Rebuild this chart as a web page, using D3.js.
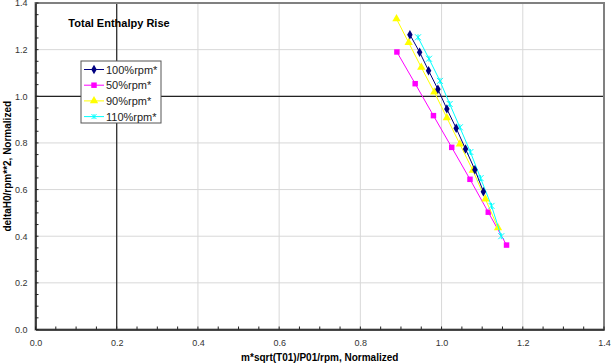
<!DOCTYPE html>
<html>
<head>
<meta charset="utf-8">
<script src="https://cdn.jsdelivr.net/npm/d3@7"></script>
<style>
  html, body { margin: 0; padding: 0; background: #fff; }
  svg { display: block; font-family: "Liberation Sans", Arial, sans-serif; }
</style>
</head>
<body>
<svg id="chart" width="612" height="363"></svg>
<script>
// ---- data ----
var seriesNames = ['100%rpm*', '50%rpm*', '90%rpm*', '110%rpm*'];
var seriesColors = ['#000080', '#ff00ff', '#ffff00', '#00ffff'];
var seriesShapes = ['diamond', 'square', 'triangle', 'cross'];

var x100 = [0.922, 0.946, 0.968, 0.991, 1.013, 1.036, 1.059, 1.082, 1.103];
var y100 = [1.264, 1.189, 1.110, 1.030, 0.946, 0.863, 0.774, 0.685, 0.591];

var x50 = [0.890, 0.935, 0.980, 1.025, 1.070, 1.115, 1.160];
var y50 = [1.190, 1.054, 0.917, 0.781, 0.644, 0.503, 0.362];

var x90 = [0.889, 0.919, 0.950, 0.982, 1.013, 1.045, 1.077, 1.108, 1.139];
var y90 = [1.332, 1.230, 1.124, 1.018, 0.908, 0.795, 0.682, 0.559, 0.436];

var x110 = [0.942, 0.969, 0.996, 1.020, 1.045, 1.071, 1.096, 1.123, 1.147];
var y110 = [1.253, 1.161, 1.066, 0.967, 0.867, 0.761, 0.649, 0.530, 0.400];

var xTicks = [0.0, 0.2, 0.4, 0.6, 0.8, 1.0, 1.2, 1.4];
var yTicks = [0.0, 0.2, 0.4, 0.6, 0.8, 1.0, 1.2, 1.4];

var chartTitle = 'Total Enthalpy Rise';
var xLabel = 'm*sqrt(T01)/P01/rpm, Normalized';
var yLabel = 'deltaH0/rpm**2, Normalized';

var xs = [x100, x50, x90, x110];
var ys = [y100, y50, y90, y110];
var series = seriesNames.map(function(name, i) {
  return {
    name: name, color: seriesColors[i], shape: seriesShapes[i],
    points: xs[i].map(function(xv, j) { return { x: xv, y: ys[i][j] }; })
  };
});

// ---- layout ----
var svg = d3.select('#chart');
var plotL = 35.5, plotR = 604, plotT = 3, plotB = 329.5;

var x = d3.scaleLinear().domain([0, 1.4]).range([plotL, plotR]);
var y = d3.scaleLinear().domain([0, 1.4]).range([plotB, plotT]);

// light gridlines
var grid = svg.append('g').attr('stroke', '#d8d8d8').attr('stroke-width', 1);
grid.selectAll('line.gx').data(xTicks.slice(1, -1)).enter().append('line')
  .attr('x1', function(d) { return x(d); }).attr('x2', function(d) { return x(d); })
  .attr('y1', plotT).attr('y2', plotB);
grid.selectAll('line.gy').data(yTicks.slice(1, -1)).enter().append('line')
  .attr('y1', function(d) { return y(d); }).attr('y2', function(d) { return y(d); })
  .attr('x1', plotL).attr('x2', plotR);

// dark reference lines at x=0.2 and y=1.0
svg.append('line').attr('x1', x(0.2)).attr('x2', x(0.2)).attr('y1', plotT).attr('y2', plotB)
  .attr('stroke', '#222').attr('stroke-width', 1.2);
svg.append('line').attr('x1', plotL).attr('x2', plotR).attr('y1', y(1.0)).attr('y2', y(1.0))
  .attr('stroke', '#222').attr('stroke-width', 1.2);

// plot frame (gray top/right)
svg.append('rect').attr('x', plotL).attr('y', plotT).attr('width', plotR - plotL).attr('height', plotB - plotT)
  .attr('fill', 'none').attr('stroke', '#808080').attr('stroke-width', 2);

// axes
var fmt = d3.format('.1f');
var xAxis = d3.axisBottom(x).tickValues(xTicks).tickFormat(fmt).tickSize(0).tickPadding(10);
var yAxis = d3.axisLeft(y).tickValues(yTicks).tickFormat(fmt).tickSize(0).tickPadding(8);

var gx = svg.append('g').attr('transform', 'translate(0,' + plotB + ')').call(xAxis);
var gy = svg.append('g').attr('transform', 'translate(' + plotL + ',0)').call(yAxis);
[gx, gy].forEach(function(g) {
  g.select('.domain').attr('stroke', '#222').attr('stroke-width', 1.5);
  g.selectAll('text').attr('font-size', 9).attr('fill', '#333')
    .attr('font-family', '"Liberation Sans", Arial, sans-serif');
});

// minor ticks every 0.05 (inside)
var minor = d3.range(0, 1.4001, 0.05);
svg.append('g').attr('stroke', '#222').selectAll('line').data(minor).enter().append('line')
  .attr('x1', function(d) { return x(d); }).attr('x2', function(d) { return x(d); })
  .attr('y1', plotB).attr('y2', plotB - 3);
svg.append('g').attr('stroke', '#222').selectAll('line').data(minor).enter().append('line')
  .attr('y1', function(d) { return y(d); }).attr('y2', function(d) { return y(d); })
  .attr('x1', plotL).attr('x2', plotL + 3);

// axis labels
svg.append('text').attr('x', (plotL + plotR) / 2).attr('y', 361)
  .attr('text-anchor', 'middle').attr('font-size', 10).attr('font-weight', 'bold').text(xLabel);
svg.append('text').attr('transform', 'translate(11,' + (plotT + plotB) / 2 + ') rotate(-90)')
  .attr('text-anchor', 'middle').attr('font-size', 10).attr('font-weight', 'bold').text(yLabel);

// chart title
svg.append('text').attr('x', 119).attr('y', 27).attr('text-anchor', 'middle')
  .attr('font-size', 11).attr('font-weight', 'bold').text(chartTitle);

// marker drawing
function drawMarker(sel, shape, color, size) {
  if (shape === 'cross') {
    var s = size;
    sel.append('path')
      .attr('d', 'M' + (-s) + ',' + (-s) + 'L' + s + ',' + s + 'M' + (-s) + ',' + s + 'L' + s + ',' + (-s) + 'M0,' + (-s) + 'L0,' + s)
      .attr('stroke', color).attr('stroke-width', 1).attr('fill', 'none');
  } else {
    var sym = shape === 'diamond' ? d3.symbolDiamond : shape === 'square' ? d3.symbolSquare : d3.symbolTriangle;
    var area = shape === 'diamond' ? 26 : shape === 'square' ? 30 : 30;
    sel.append('path').attr('d', d3.symbol().type(sym).size(area)()).attr('fill', color);
  }
}

// series lines and markers
var line = d3.line().x(function(d) { return x(d.x); }).y(function(d) { return y(d.y); });
var drawOrder = [1, 2, 3, 0];
drawOrder.forEach(function(i) {
  var s = series[i];
  svg.append('path').datum(s.points).attr('d', line)
    .attr('fill', 'none').attr('stroke', s.color).attr('stroke-width', 1);
  svg.append('g').selectAll('g').data(s.points).enter().append('g')
    .attr('transform', function(d) { return 'translate(' + x(d.x) + ',' + y(d.y) + ')'; })
    .each(function() { drawMarker(d3.select(this), s.shape, s.color, 3); });
});

// legend
var lg = svg.append('g').attr('transform', 'translate(81,61)');
lg.append('rect').attr('width', 80).attr('height', 62)
  .attr('fill', '#fff').attr('stroke', '#555').attr('stroke-width', 1);
series.forEach(function(s, i) {
  var row = lg.append('g').attr('transform', 'translate(0,' + (8.5 + i * 15.7) + ')');
  row.append('line').attr('x1', 3).attr('x2', 23).attr('y1', 0).attr('y2', 0)
    .attr('stroke', s.color).attr('stroke-width', 1);
  var m = row.append('g').attr('transform', 'translate(13,0)');
  drawMarker(m, s.shape, s.color, 2.5);
  row.append('text').attr('x', 25).attr('y', 4).attr('font-size', 11).attr('fill', '#222').text(s.name);
});
</script>
</body>
</html>
